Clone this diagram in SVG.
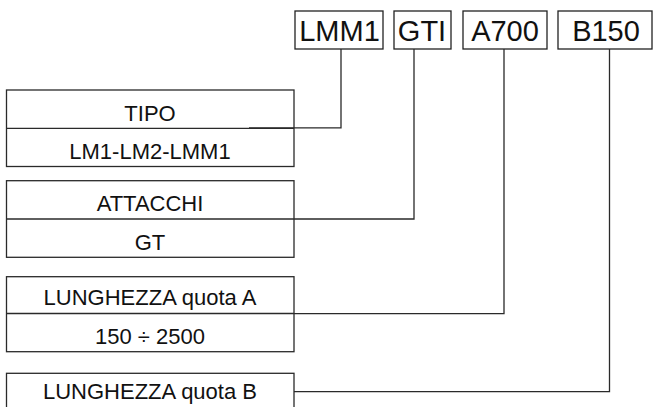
<svg xmlns="http://www.w3.org/2000/svg" width="657" height="407" viewBox="0 0 657 407">
<style>
.box{fill:#fff;stroke:#2a2a2a;stroke-width:1.3}
.div{stroke:#2a2a2a;stroke-width:1.3;fill:none}
.tbox{fill:#fff;stroke:#222;stroke-width:1.3}
.lbl{font-family:"Liberation Sans",Arial,sans-serif;font-size:22px;fill:#111;text-anchor:middle}
.top{font-family:"Liberation Sans",Arial,sans-serif;font-size:29px;fill:#111;text-anchor:middle}
.con{fill:none;stroke:#2a2a2a;stroke-width:1.3}
</style>
<rect width="657" height="407" fill="#fff"/>
<g id="code-LMM1"><rect class="tbox" x="295" y="11" width="88" height="38"/><text class="top" x="339.5" y="40.5">LMM1</text></g>
<g id="code-GTI"><rect class="tbox" x="394" y="11" width="57" height="38"/><text class="top" x="422" y="40.5">GTI</text></g>
<g id="code-A700"><rect class="tbox" x="463" y="11" width="84" height="38"/><text class="top" x="505" y="40.5">A700</text></g>
<g id="code-B150"><rect class="tbox" x="558" y="11" width="94" height="38"/><text class="top" x="606" y="40.5">B150</text></g>
<g id="tipo"><rect class="box" x="6.5" y="90" width="287.5" height="76.5"/><line class="div" x1="6.5" y1="128.3" x2="294" y2="128.3"/><text class="lbl" x="150" y="121">TIPO</text><text class="lbl" x="150" y="158.5">LM1-LM2-LMM1</text></g>
<g id="attacchi"><rect class="box" x="6.5" y="180.7" width="287.5" height="76.6"/><line class="div" x1="6.5" y1="219" x2="294" y2="219"/><text class="lbl" x="150" y="211">ATTACCHI</text><text class="lbl" x="150" y="250">GT</text></g>
<g id="lunghezza-a"><rect class="box" x="6.5" y="276.7" width="287.5" height="75"/><line class="div" x1="6.5" y1="313.5" x2="294" y2="313.5"/><text class="lbl" x="150" y="305">LUNGHEZZA quota A</text><text class="lbl" x="150" y="343.5">150 ÷ 2500</text></g>
<g id="lunghezza-b"><rect class="box" x="6.5" y="373.3" width="287.5" height="40"/><text class="lbl" x="150" y="399">LUNGHEZZA quota B</text></g>
<g id="connectors">
<polyline class="con" points="341,49 341,127.8 249,127.8"/>
<polyline class="con" points="414,49 414,219 294,219"/>
<polyline class="con" points="504,49 504,313.7 294,313.7"/>
<polyline class="con" points="609.5,49 609.5,391.7 294,391.7"/>
</g>
</svg>
